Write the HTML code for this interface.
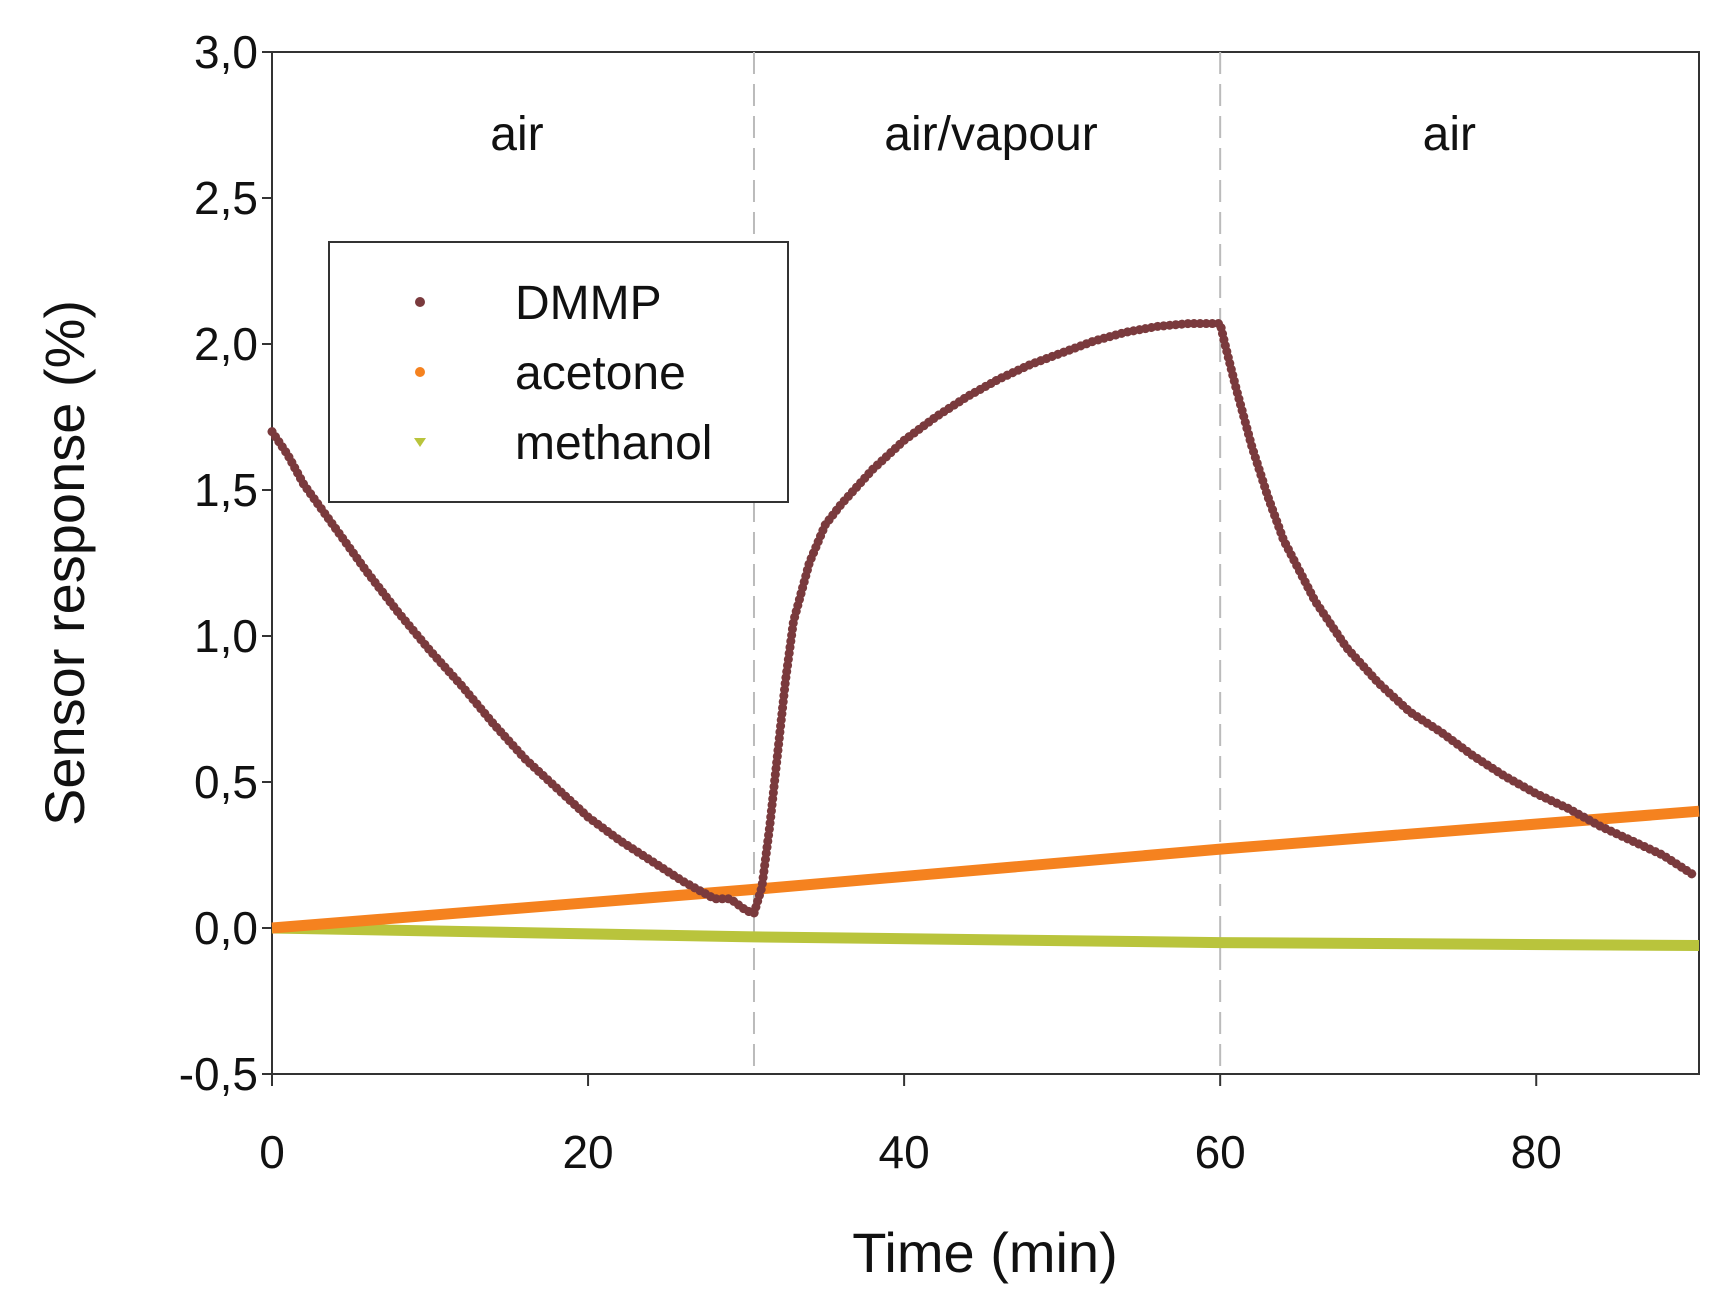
<!DOCTYPE html>
<html><head><meta charset="utf-8"><style>
html,body{margin:0;padding:0;background:#fff;}
svg{display:block;font-family:"Liberation Sans",Arial,sans-serif;}
</style></head><body>
<svg id="chart" width="1724" height="1310" viewBox="0 0 1724 1310"></svg>
<script>
const dmmpT = [0,1,2,4,6,8,10,12,14,16,18,20,22,24,26,28,29,30,30.5,31,31.5,32,32.5,33,34,35,36,38,40,42,44,46,48,50,52,54,56,58,60,60.3,61,62,63,64,66,68,70,72,74,76,78,80,82,84,86,88,90];
const dmmpV = [1.70,1.62,1.52,1.37,1.22,1.08,0.95,0.83,0.70,0.58,0.48,0.38,0.30,0.23,0.16,0.10,0.10,0.06,0.05,0.14,0.35,0.60,0.85,1.05,1.25,1.38,1.45,1.57,1.67,1.75,1.82,1.88,1.93,1.97,2.01,2.04,2.06,2.07,2.07,2.00,1.85,1.65,1.48,1.33,1.12,0.96,0.84,0.74,0.67,0.59,0.52,0.46,0.41,0.35,0.30,0.25,0.18];
const acetoneT = [0,30,60,90.3];
const acetoneV = [0,0.13,0.27,0.40];
const methanolT = [0,30,60,90.3];
const methanolV = [0,-0.03,-0.05,-0.06];
const xTicks = [0,20,40,60,80];
const yTicks = [3.0,2.5,2.0,1.5,1.0,0.5,0.0,-0.5];
const yTickLabels = ["3,0","2,5","2,0","1,5","1,0","0,5","0,0","-0,5"];
const phaseBounds = [30.5,60];
const phaseLabels = ["air","air/vapour","air"];
const phaseCenters = [15.5,45.5,74.5];

const L=272,R=1699,T=52,B=1074,XMAX=90.3,YMIN=-0.5,YMAX=3.0;
const sx=v=>L+(v/XMAX)*(R-L);
const sy=v=>B-(v-YMIN)/(YMAX-YMIN)*(B-T);
const svg=document.getElementById('chart');
const NS='http://www.w3.org/2000/svg';
function mk(tag,attrs,parent){const e=document.createElementNS(NS,tag);for(const k in attrs)e.setAttribute(k,attrs[k]);(parent||svg).appendChild(e);return e;}

let fr=mk('rect',{x:L,y:T,width:R-L,height:B-T,fill:'none',stroke:'#333','stroke-width':2});



phaseBounds.forEach(b=>{
  const l=mk('line',{x1:sx(b),x2:sx(b),y1:T,y2:B,stroke:'#bbb','stroke-width':2,'stroke-dasharray':'22,10'});
  
  
});
phaseLabels.forEach((p,i)=>{
  const t=mk('text',{x:sx(phaseCenters[i]),y:150,'font-size':48,'text-anchor':'middle',fill:'#111'});
  t.textContent=p;
  
  
});

yTicks.forEach((v,i)=>{
  const l=mk('line',{x1:L-10,x2:L,y1:sy(v),y2:sy(v),stroke:'#333','stroke-width':2});
  
  
  const t=mk('text',{x:L-14,y:sy(v)+16,'font-size':46,'text-anchor':'end',fill:'#111'});
  t.textContent=yTickLabels[i];
  
  
});
xTicks.forEach(v=>{
  const l=mk('line',{x1:sx(v),x2:sx(v),y1:B,y2:B+12,stroke:'#333','stroke-width':2});
  
  
  const t=mk('text',{x:sx(v),y:B+94,'font-size':46,'text-anchor':'middle',fill:'#111'});
  t.textContent=v;
  
  
});
let xt=mk('text',{x:985,y:1272,'font-size':56,'text-anchor':'middle',fill:'#111'});
xt.textContent='Time (min)';


let yt=mk('text',{x:0,y:0,'font-size':56,'text-anchor':'middle',fill:'#111',transform:'translate(84,563) rotate(-90)'});
yt.textContent='Sensor response (%)';



function pts(ts,vs){return ts.map((t,i)=>sx(t)+','+sy(vs[i])).join(' ');}
let me=mk('polyline',{points:pts(methanolT,methanolV),fill:'none',stroke:'#b9c43c','stroke-width':11});


let ac=mk('polyline',{points:pts(acetoneT,acetoneV),fill:'none',stroke:'#f5821f','stroke-width':11});


let dm=mk('polyline',{points:pts(dmmpT,dmmpV),fill:'none',stroke:'#7a3a3d','stroke-width':9,'stroke-linecap':'round','stroke-linejoin':'round','stroke-dasharray':'0.1,6'});



const lg=mk('g',{});


mk('rect',{x:329,y:242,width:459,height:260,fill:'#fff',stroke:'#333','stroke-width':2},lg);
const legNames=['DMMP','acetone','methanol'];
const legColors=['#7a3a3d','#f5821f','#b9c43c'];
legNames.forEach((n,i)=>{
  const y=302+i*70;
  const g=mk('g',{},lg);
  
  
  if(i<2) mk('circle',{cx:420,cy:y,r:5,fill:legColors[i]},g);
  else mk('polygon',{points:`414,${y-4} 426,${y-4} 420,${y+5}`,fill:legColors[i]},g);
  const t=mk('text',{x:515,y:y+17,'font-size':48,fill:'#111'},g);
  t.textContent=n;
});
</script>
</body></html>
